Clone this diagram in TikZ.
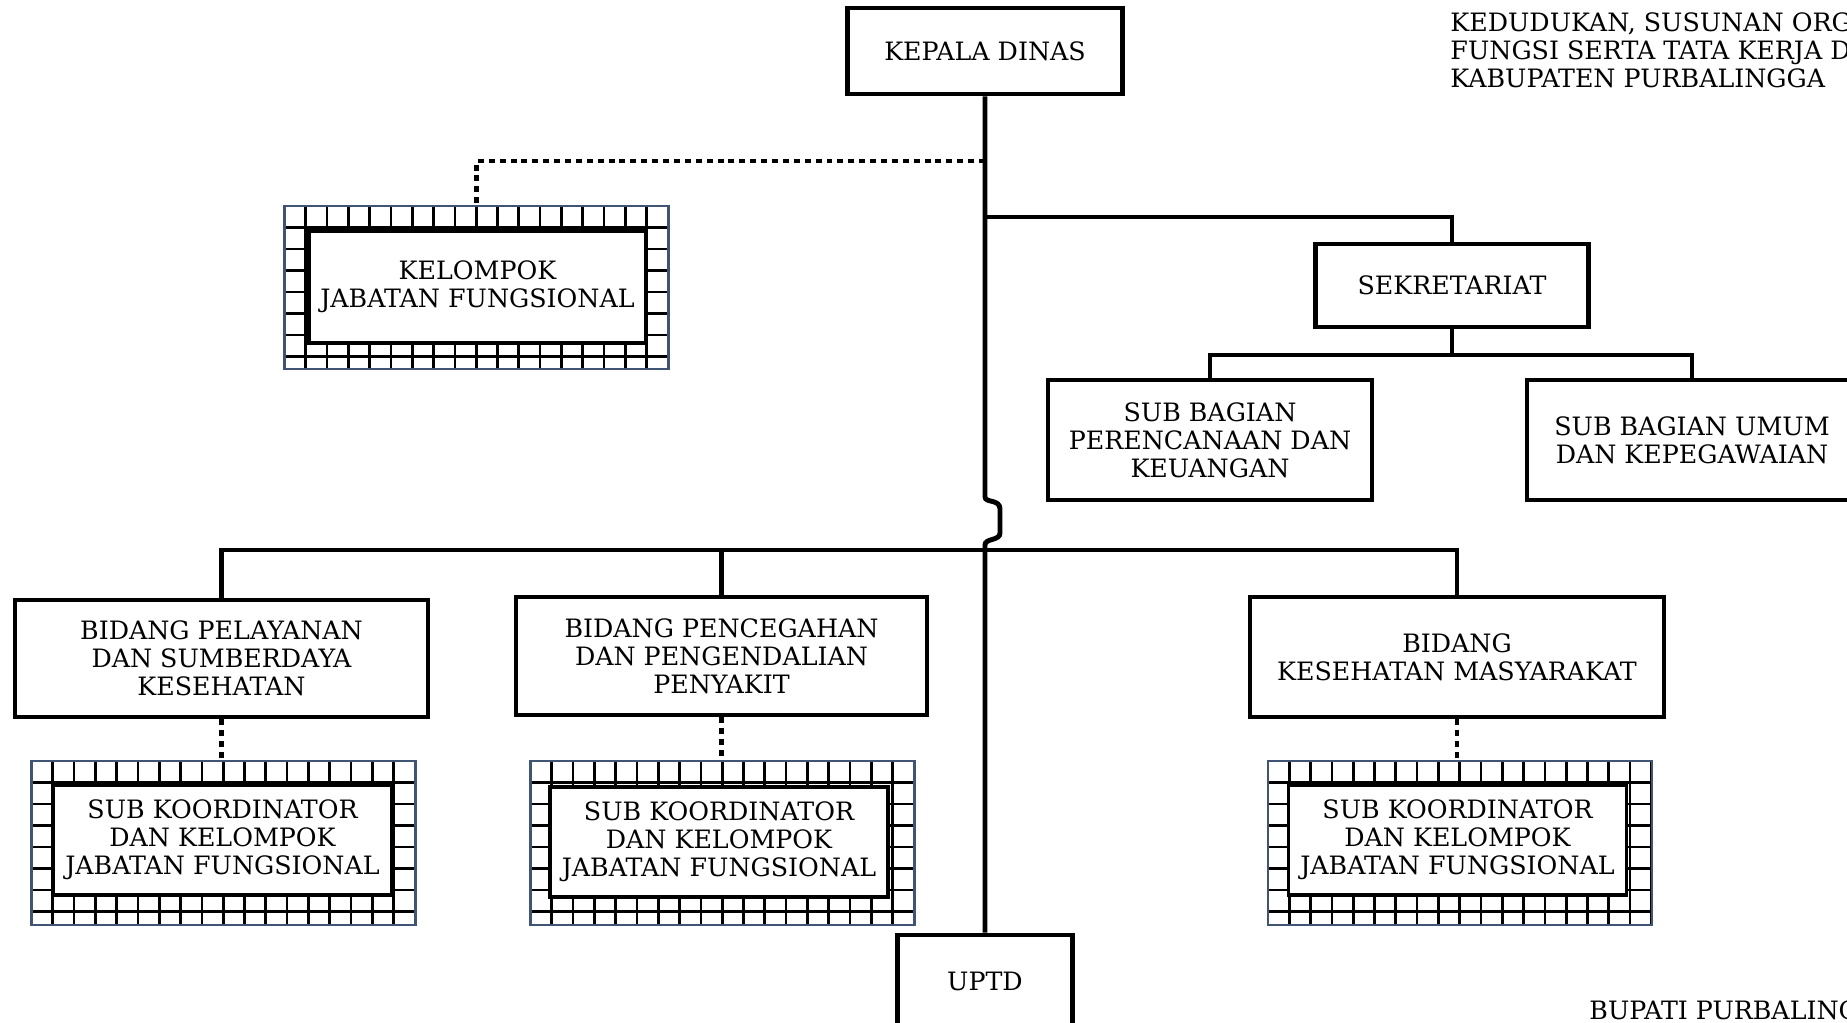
\documentclass[tikz,border=0pt]{standalone}
\usepackage{fontspec}
\setmainfont{DejaVu Serif}
\newcommand\boxfont{\fontsize{7.2}{8}\selectfont}
\definecolor{frame}{HTML}{3F5573}
\begin{document}
\begin{tikzpicture}[line width=1.4pt,
    box/.style={draw,line width=1.4pt,align=center,font=\boxfont,inner sep=0pt},
    kel/.style={inner sep=0pt,outer sep=0pt,minimum width=3.84cm,minimum height=1.64cm},
    inb/.style={draw,fill=white,line width=1.1pt,align=center,font=\boxfont,inner sep=0pt,
      minimum width=3.38cm,minimum height=1.10cm},
    dt/.style={line width=1.15pt,dash pattern=on 1.7pt off 1.4pt},
    txt/.style={font=\boxfont,align=left,inner sep=0pt}]
  \useasboundingbox (0,0) rectangle (18.47,-10.23);
  \node[box,minimum width=2.75cm,minimum height=0.86cm] (kd) at (9.85,-0.51) {KEPALA DINAS};
  \node[box,minimum width=2.73cm,minimum height=0.83cm] (sek) at (14.52,-2.855) {SEKRETARIAT};
  \node[box,minimum width=3.24cm,minimum height=1.20cm] (pk) at (12.10,-4.40) {SUB BAGIAN\\PERENCANAAN DAN\\KEUANGAN};
  \node[box,minimum width=3.30cm,minimum height=1.20cm] (um) at (16.92,-4.40) {SUB BAGIAN UMUM\\DAN KEPEGAWAIAN};
  \node[box,minimum width=4.13cm,minimum height=1.17cm] (bp) at (2.215,-6.585) {BIDANG PELAYANAN\\DAN SUMBERDAYA\\KESEHATAN};
  \node[box,minimum width=4.11cm,minimum height=1.18cm] (bpp) at (7.215,-6.56) {BIDANG PENCEGAHAN\\DAN PENGENDALIAN\\PENYAKIT};
  \node[box,minimum width=4.14cm,minimum height=1.20cm] (bk) at (14.57,-6.57) {BIDANG\\KESEHATAN MASYARAKAT};
  \node[box,minimum width=1.75cm,minimum height=0.92cm] (uptd) at (9.85,-9.81) {UPTD};
  \node[kel,minimum height=1.63cm] (gk) at (4.765,-2.875) {};
  \node[kel] (g1) at (2.235,-8.43) {};
  \node[kel] (g2) at (7.225,-8.43) {};
  \node[kel] (g3) at (14.60,-8.43) {};
  \foreach \g in {gk,g1,g2,g3} {
    \begin{scope}
      \clip (\g.south west) rectangle (\g.north east);
      \draw[black,line width=0.75pt,shift={(\g.north west)}] (0,-2) grid[xstep=0.213,ystep=0.215] (4,0);
    \end{scope}
    \draw[frame,line width=0.6pt] (\g.south west) rectangle (\g.north east);
  }
  \node[inb,minimum width=3.37cm,minimum height=1.12cm] (ik) at (4.775,-2.87) {KELOMPOK\\JABATAN FUNGSIONAL};
  \node[inb] (i1) at (2.225,-8.40) {SUB KOORDINATOR\\DAN KELOMPOK\\JABATAN FUNGSIONAL};
  \node[inb] (i2) at (7.19,-8.42) {SUB KOORDINATOR\\DAN KELOMPOK\\JABATAN FUNGSIONAL};
  \node[inb] (i3) at (14.575,-8.40) {SUB KOORDINATOR\\DAN KELOMPOK\\JABATAN FUNGSIONAL};
  \node[txt,anchor=north west] (judul) at (14.48,-0.10) {KEDUDUKAN, SUSUNAN ORG\\FUNGSI SERTA TATA KERJA D\\KABUPATEN PURBALINGGA};
  \node[txt,anchor=base west] (bupati) at (15.87,-10.20) {BUPATI PURBALING};
  \coordinate (a) at (9.85,-2.17);
  \coordinate (b) at (9.85,-5.50);
  \coordinate (d) at (9.85,-1.61);
  \coordinate (s) at (14.52,-3.55);
  \draw (kd.south) -- (9.85,-4.97) .. controls (9.85,-5.03) and (10.0,-4.99) .. (10.0,-5.09)
    -- (10.0,-5.33) .. controls (10.0,-5.41) and (9.85,-5.38) .. (9.85,-5.45) -- (uptd.north);
  \draw (a) -| (sek.north);
  \draw (sek.south) -- (s);
  \draw (pk.north) |- (s) -| (um.north);
  \draw (bp.north) |- (b) -| (bk.north);
  \draw (bpp.north) -- (bpp.north |- b);
  \draw[dt] (d) -| (gk.north);
  \draw[dt] (bp.south) -- (bp.south |- g1.north);
  \draw[dt] (bpp.south) -- (bpp.south |- g2.north);
  \draw[dt] (bk.south) -- (bk.south |- g3.north);
\end{tikzpicture}
\end{document}
